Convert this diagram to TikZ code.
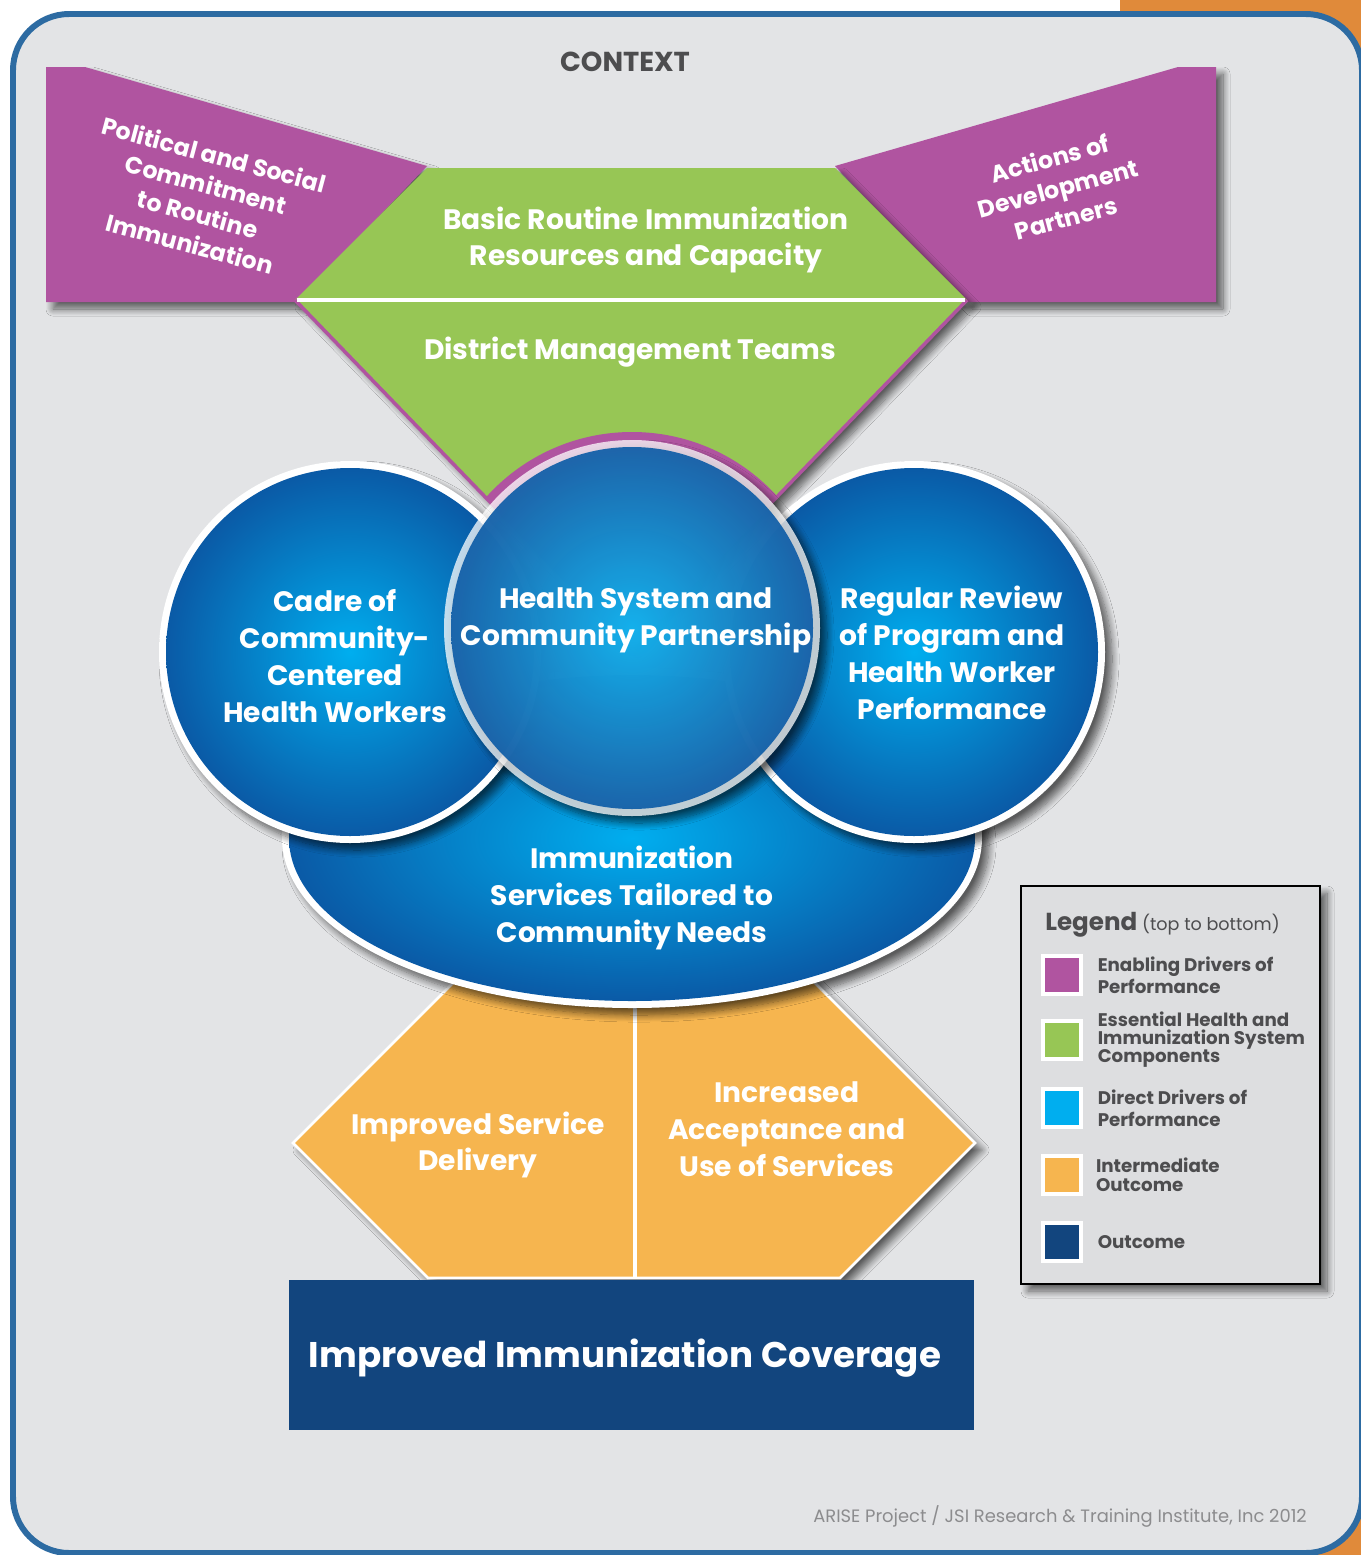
\documentclass[tikz,border=0pt]{standalone}
\usepackage{fontspec}
\setmainfont{Poppins}
\usetikzlibrary{positioning,shadows.blur}

\definecolor{bgray}{HTML}{E3E4E6}
\definecolor{framebl}{HTML}{2D6BA2}
\definecolor{cornerorg}{HTML}{E08A3A}
\definecolor{enabpurp}{HTML}{B054A0}
\definecolor{essgreen}{HTML}{97C655}
\definecolor{dirblue}{HTML}{00AEEF}
\definecolor{dirdark}{HTML}{0A5AA6}
\definecolor{intorange}{HTML}{F6B54F}
\definecolor{outnavy}{HTML}{12457E}
\definecolor{txtgray}{HTML}{4D4D4F}
\definecolor{leggray}{HTML}{DDDEE0}
\definecolor{footgray}{HTML}{8C8C8E}

\tikzset{
  maintxt/.style={text=white, font=\bfseries\fontsize{16}{21}\selectfont, align=center},
  sidetxt/.style={text=white, font=\bfseries\fontsize{13.5}{17.5}\selectfont, align=center},
  bubble/.style={inner color=dirblue, outer color=dirdark},
  softshadow/.style={blur shadow={shadow xshift=4pt, shadow yshift=-4pt, shadow opacity=60, shadow blur radius=4pt, shadow blur steps=10}},
  legsw/.style={draw=white, line width=2.3pt, minimum size=22pt, inner sep=0pt},
  legtxt/.style={text=txtgray, inner sep=0pt, align=left},
}

\begin{document}
\begin{tikzpicture}[x=0.02cm, y=-0.02cm]
\useasboundingbox (0,0) rectangle (1361,1555);
% frame
\fill[white] (0,0) rectangle (1361,1555);
\fill[cornerorg] (1120,0) rectangle (1361,1555);
\draw[framebl, fill=bgray, line width=3.4pt, rounded corners=32pt] (13,14) rectangle (1362,1553);
\node[text=txtgray, font=\bfseries\fontsize{15.6}{18}\selectfont] (context) at (625,62) {CONTEXT};

% enabling drivers
\fill[enabpurp, softshadow] (46,67) -- (85,67) -- (427,166) -- (297,302) -- (46,302) -- cycle;
\fill[enabpurp, softshadow] (1216,67) -- (1178,67) -- (835,166) -- (965,302) -- (1216,302) -- cycle;

% system components
\fill[essgreen, softshadow] (427,168) -- (835,168) -- (967,300) -- (631,648) -- (295,300) -- cycle;
\begin{scope}
\clip (427,168) -- (835,168) -- (967,300) -- (631,648) -- (295,300) -- cycle;
\fill[enabpurp] (632,628) circle[radius=196];
\end{scope}
\draw[enabpurp, line width=2pt] (295,300) -- (631,648) -- (967,300);
\draw[white, line width=2pt] (297,300) -- (965,300);

% intermediate outcomes
\path[fill=intorange, draw=white, line width=1.5pt, softshadow] (293,1143) -- (496,940) -- (772,940) -- (975,1143) -- (840,1278) -- (428,1278) -- cycle;
\draw[white, line width=2pt] (635,940) -- (635,1278);

% outcome
\fill[outnavy] (289,1280) rectangle (974,1430);

% direct drivers
\path[fill=white, softshadow] (632,838) ellipse[x radius=350, y radius=170];
\path[bubble] (632,838) ellipse[x radius=343, y radius=163];
\path[fill=white, softshadow] (350,652) circle[radius=191];
\path[bubble] (350,652) circle[radius=184];
\path[fill=white, softshadow] (914,652) circle[radius=191];
\path[bubble] (914,652) circle[radius=184];
\path[fill=white, fill opacity=.75, softshadow] (632,628) circle[radius=188];
\path[bubble, fill opacity=.9] (632,628) circle[radius=181];

% labels
\node[sidetxt, rotate=-15] (polit) at (202,199) {Political and Social\\Commitment\\to Routine\\Immunization};
\node[sidetxt, rotate=15] (actions) at (1058,188) {Actions of\\Development\\Partners};
\node[maintxt] (basic) at (646,240) {Basic Routine Immunization\\Resources and Capacity};
\node[maintxt] (dmt) at (630,352) {District Management Teams};
\node[maintxt] (cadre) at (335,656) {Cadre of\\Community-\\Centered\\Health Workers};
\node[maintxt] (partner) at (636,620) {Health System and\\Community Partnership};
\node[maintxt] (review) at (952,653) {Regular Review\\of Program and\\Health Worker\\Performance};
\node[maintxt] (tailor) at (632,898) {Immunization\\Services Tailored to\\Community Needs};
\node[maintxt] (delivery) at (478,1145) {Improved Service\\Delivery};
\node[maintxt] (accept) at (787,1129) {Increased\\Acceptance and\\Use of Services};
\node[text=white, font=\bfseries\fontsize{20.3}{24}\selectfont] (coverage) at (625,1358) {Improved Immunization Coverage};

% legend
\path[fill=leggray, draw=black, line width=1.5pt, softshadow] (1021,886) rectangle (1320,1284);
\node[legtxt, anchor=west] (legtitle) at (1045,925) {{\bfseries\fontsize{14}{16}\selectfont Legend} {\fontsize{10}{11}\selectfont(top to bottom)}};
\node[legsw, fill=enabpurp] (sw1) at (1062,975) {};
\node[legsw, fill=essgreen] (sw2) at (1062,1040) {};
\node[legsw, fill=dirblue] (sw3) at (1062,1108) {};
\node[legsw, fill=intorange] (sw4) at (1062,1175) {};
\node[legsw, fill=outnavy] (sw5) at (1062,1242) {};
\node[legtxt, right=8pt of sw1, font=\bfseries\fontsize{10.4}{12.5}\selectfont] (lt1) {Enabling Drivers of\\Performance};
\node[legtxt, right=8pt of sw2, font=\bfseries\fontsize{10.4}{10.2}\selectfont] (lt2) {Essential Health and\\Immunization System\\Components};
\node[legtxt, right=8pt of sw3, font=\bfseries\fontsize{10.4}{12.5}\selectfont] (lt3) {Direct Drivers of\\Performance};
\node[legtxt, right=7pt of sw4, font=\bfseries\fontsize{10.4}{10.8}\selectfont] (lt4) {Intermediate\\Outcome};
\node[legtxt, right=8pt of sw5, font=\bfseries\fontsize{10.4}{11}\selectfont] (lt5) {Outcome};

\node[text=footgray, anchor=east, font=\fontsize{10.2}{12}\selectfont] (credit) at (1313,1516) {ARISE Project / JSI Research \& Training Institute, Inc 2012};
\end{tikzpicture}
\end{document}
